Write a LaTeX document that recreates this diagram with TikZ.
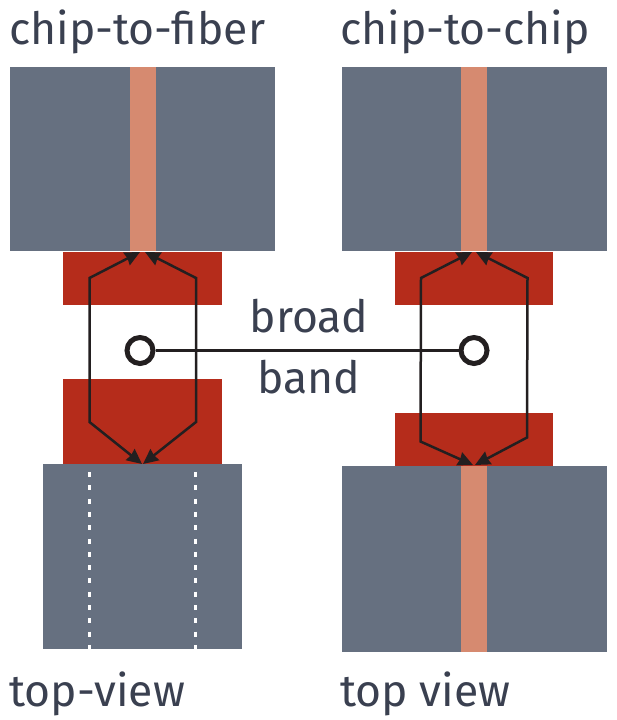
\documentclass[tikz,border=0pt]{standalone}
\usepackage{fontspec}
\setmainfont{Fira Sans}
\usetikzlibrary{arrows.meta}
\definecolor{chipgray}{HTML}{667080}
\definecolor{corecopper}{HTML}{D68A70}
\definecolor{padred}{HTML}{B52C1B}
\definecolor{inkdark}{HTML}{231F20}
\definecolor{labelslate}{HTML}{3A4050}
\tikzset{
  block/.style={anchor=north west,inner sep=0pt,outer sep=0pt},
  chipbox/.style={block,fill=chipgray},
  corebox/.style={block,fill=corecopper},
  padbox/.style={block,fill=padred},
  title/.style={anchor=base west,inner sep=0pt,text=labelslate,font=\fontsize{44.5}{53}\selectfont},
  beam/.style={draw=inkdark,line width=2.5pt,line join=miter,{Stealth[length=15pt,width=14pt,inset=1pt]}-{Stealth[length=15pt,width=14pt,inset=1pt]}},
  ring/.style={circle,draw=inkdark,fill=white,line width=5pt,minimum size=26pt,inner sep=0pt},
  edgeline/.style={white,line width=2.5pt,dash pattern=on 5pt off 8.3pt},
}
\begin{document}
\begin{tikzpicture}[x=1pt,y=-1pt]
  \useasboundingbox (0,0) rectangle (616,720);
  % upper chips
  \node[chipbox,minimum width=265pt,minimum height=184pt] (chipA) at (10,67) {};
  \node[corebox,minimum width=26pt,minimum height=184pt] (coreA) at (130,67) {};
  \node[chipbox,minimum width=265pt,minimum height=184pt] (chipB) at (342,67) {};
  \node[corebox,minimum width=26pt,minimum height=184pt] (coreB) at (461,67) {};
  % red pads
  \node[padbox,minimum width=159pt,minimum height=53pt] (padA) at (63,252) {};
  \node[padbox,minimum width=159pt,minimum height=85pt] (padC) at (63,379) {};
  \node[padbox,minimum width=158pt,minimum height=53pt] (padB) at (395,252) {};
  \node[padbox,minimum width=158pt,minimum height=53pt] (padD) at (395,413) {};
  % lower chips
  \node[chipbox,minimum width=199pt,minimum height=185pt] (chipC) at (43,464) {};
  \node[chipbox,minimum width=265pt,minimum height=186pt] (chipD) at (342,466) {};
  \node[corebox,minimum width=26pt,minimum height=186pt] (coreD) at (461,466) {};
  % fiber edges
  \coordinate (edgeAt) at (89.5,472);
  \coordinate (edgeAb) at (89.5,649);
  \coordinate (edgeBt) at (195.5,472);
  \coordinate (edgeBb) at (195.5,649);
  \draw[edgeline] (edgeAt) -- (edgeAb);
  \draw[edgeline] (edgeBt) -- (edgeBb);
  % beams, left
  \coordinate (tipA) at (140,252);
  \coordinate (tipB) at (145,252);
  \coordinate (tipC) at (142,464);
  \coordinate (tipE) at (143,464);
  \coordinate (bendA) at (89.5,278);
  \coordinate (bendB) at (196,278);
  \coordinate (bendC) at (89.5,422);
  \coordinate (bendE) at (196,422);
  \draw[beam] (tipA) -- (bendA) -- (bendC) -- (tipC);
  \draw[beam] (tipB) -- (bendB) -- (bendE) -- (tipE);
  % beams, right
  \coordinate (tipF) at (472,252);
  \coordinate (tipG) at (476,252);
  \coordinate (tipH) at (473,465);
  \coordinate (tipI) at (475,465);
  \coordinate (bendF) at (421,278);
  \coordinate (bendG) at (527.5,278);
  \coordinate (bendH) at (420.5,441.5);
  \coordinate (bendI) at (527,437.5);
  \draw[beam] (tipF) -- (bendF) -- (bendH) -- (tipH);
  \draw[beam] (tipG) -- (bendG) -- (bendI) -- (tipI);
  % broadband link
  \node[ring] (ringL) at (140,350.5) {};
  \node[ring] (ringR) at (474,350.5) {};
  \draw[inkdark,line width=2.5pt] (ringL) -- (ringR);
  % labels
  \node[title] (titleA) at (9,44) {chip-to-fiber};
  \node[title] (titleB) at (340,44) {chip-to-chip};
  \node[title] (viewA) at (9,706) {top-view};
  \node[title] (viewB) at (340,706) {top view};
  \node[title,anchor=base] (broad) at (309,332) {broad};
  \node[title,anchor=base] (band) at (309,393) {band};
\end{tikzpicture}
\end{document}
